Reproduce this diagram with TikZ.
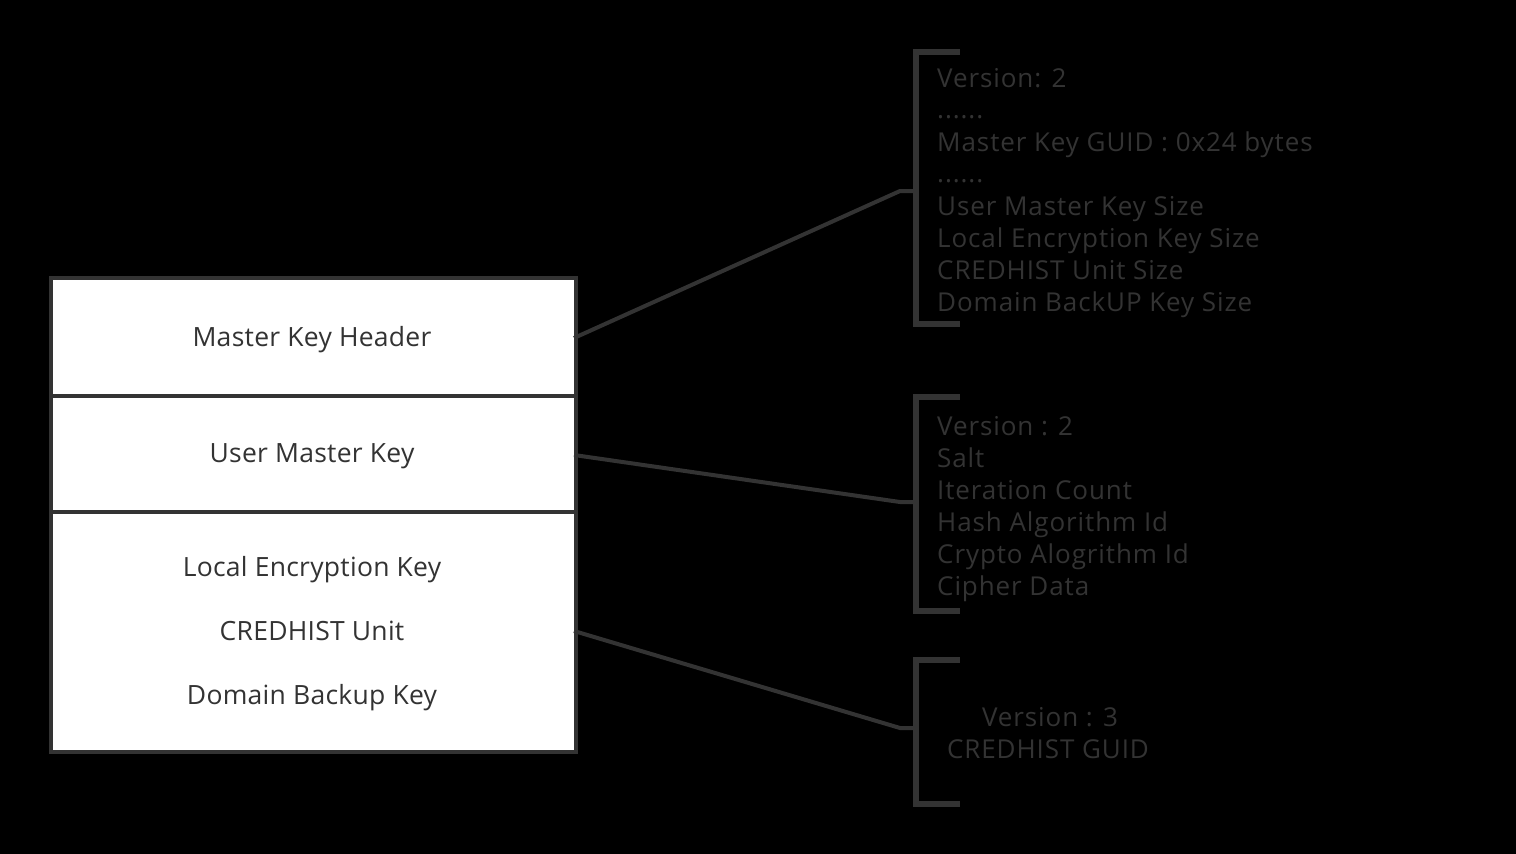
\documentclass[tikz,border=0pt]{standalone}
\usepackage{fontspec}
\setmainfont{Open Sans}
\newfontfamily\fieldfont[LetterSpace=3.5]{Open Sans}
\newfontfamily\boxfont[LetterSpace=1]{Open Sans}
\definecolor{ink}{HTML}{333333}
\begin{document}
\begin{tikzpicture}[x=1pt,y=-1pt,
  row/.style={draw=ink, line width=4pt, fill=white, minimum width=525pt, anchor=north west, inner sep=0pt},
  lbl/.style={text=ink, font=\boxfont\fontsize{26.5}{30}\selectfont, inner sep=0pt, anchor=base},
  fld/.style={text=ink, font=\fieldfont\fontsize{26}{30}\selectfont, inner sep=0pt, anchor=base west},
  fldc/.style={text=ink, font=\fieldfont\fontsize{26}{30}\selectfont, inner sep=0pt, anchor=base},
  brk/.style={draw=ink, line width=6pt},
  conn/.style={draw=ink, line width=4pt}]
\fill[black] (0,0) rectangle (1516,854);
\useasboundingbox (0,0) rectangle (1516,854);
% main box rows
\node[row, minimum height=118pt] (hdr) at (49,276) {};
\node[row, minimum height=116pt] (umk) at (49,394) {};
\node[row, minimum height=240pt] (rest) at (49,510) {};
\node[lbl] (t1) at (312,346) {Master Key Header};
\node[lbl] (t2) at (312,462) {User Master Key};
\node[lbl] (t3) at (312,576) {Local Encryption Key};
\node[lbl] (t4) at (312,640) {CREDHIST Unit};
\node[lbl] (t5) at (312,704) {Domain Backup Key};
% brackets
\draw[brk] (960,52) -- (916,52) -- (916,323.5) -- (960,323.5);
\draw[brk] (960,396.5) -- (916,396.5) -- (916,611) -- (960,611);
\draw[brk] (960,659.5) -- (916,659.5) -- (916,803.5) -- (960,803.5);
% connector end points
\coordinate (h1) at (574,338);
\coordinate (b1) at (900,191);
\coordinate (e1) at (916,191);
\coordinate (h2) at (574,455);
\coordinate (b2) at (900,502);
\coordinate (e2) at (916,502);
\coordinate (h3) at (574,631);
\coordinate (b3) at (900,728);
\coordinate (e3) at (916,728);
\draw[conn] (h1) -- (b1) -- (e1);
\draw[conn] (h2) -- (b2) -- (e2);
\draw[conn] (h3) -- (b3) -- (e3);
% bracket 1 fields
\node[fld] (f11) at (937,87) {Version: 2};
\node[fld] (f12) at (937,118) {......};
\node[fld] (f13) at (937,151) {Master Key GUID : 0x24 bytes};
\node[fld] (f14) at (937,182) {......};
\node[fld] (f15) at (937,215) {User Master Key Size};
\node[fld] (f16) at (937,247) {Local Encryption Key Size};
\node[fld] (f17) at (937,279) {CREDHIST Unit Size};
\node[fld] (f18) at (937,311) {Domain BackUP Key Size};
% bracket 2 fields
\node[fld] (f21) at (937,435) {Version : 2};
\node[fld] (f22) at (937,467) {Salt};
\node[fld] (f23) at (937,499) {Iteration Count};
\node[fld] (f24) at (937,531) {Hash Algorithm Id};
\node[fld] (f25) at (937,563) {Crypto Alogrithm Id};
\node[fld] (f26) at (937,595) {Cipher Data};
% bracket 3 fields
\node[fldc] (f31) at (1050,726) {Version : 3};
\node[fldc] (f32) at (1048,758) {CREDHIST GUID};
\end{tikzpicture}
\end{document}
